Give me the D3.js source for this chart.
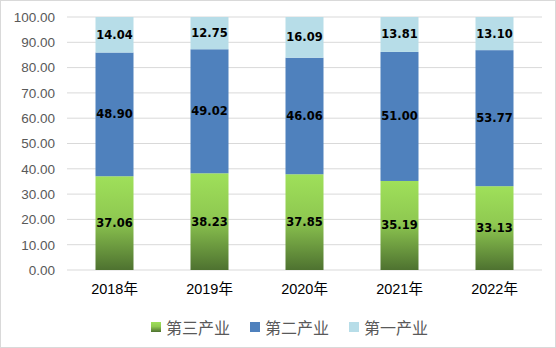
<!DOCTYPE html>
<html><head><meta charset="utf-8">
<script src="https://cdn.jsdelivr.net/npm/d3@7"></script>
<style>body{margin:0;background:#fff}svg{display:block}</style>
</head><body><svg id="c" width="556" height="348"></svg>
<script>
const years = ["2018年","2019年","2020年","2021年","2022年"];
const tertiary = [37.06,38.23,37.85,35.19,33.13];
const secondary = [48.90,49.02,46.06,51.00,53.77];
const primary = [14.04,12.75,16.09,13.81,13.10];
const seriesNames = ["第三产业","第二产业","第一产业"];
const yTicks = [0,10,20,30,40,50,60,70,80,90,100];

const svg = d3.select("#c");
const W=556,H=348;
svg.append("rect").attr("x",0.5).attr("y",0.5).attr("width",W-1).attr("height",H-1)
  .attr("fill","#fff").attr("stroke","#d9d9d9");

const defs = svg.append("defs");
const g1 = defs.append("linearGradient").attr("id","gGreen").attr("x1",0).attr("y1",0).attr("x2",0).attr("y2",1);
g1.append("stop").attr("offset","0%").attr("stop-color","#9fe05a");
g1.append("stop").attr("offset","45%").attr("stop-color","#8fc951");
g1.append("stop").attr("offset","100%").attr("stop-color","#4e7230");

const x = d3.scaleBand().domain(years).range([67,542]).paddingInner(0.6).paddingOuter(0.3);
const y = d3.scaleLinear().domain([0,100]).range([270,17]);

const grid = svg.append("g");
yTicks.forEach(t=>{
  grid.append("line").attr("x1",67).attr("x2",542).attr("y1",y(t)).attr("y2",y(t))
   .attr("stroke","#d9d9d9").attr("stroke-width",1);
});

const yAxis = d3.axisLeft(y).tickValues(yTicks).tickFormat(d=>d.toFixed(2)).tickSize(0).tickPadding(12);
const ya = svg.append("g").attr("transform","translate(67,0)").call(yAxis);
ya.select(".domain").remove();
ya.selectAll("text").attr("fill","#595959").style("font-family","'Liberation Sans',Arial,sans-serif").style("font-size","13.5px");

const xAxis = d3.axisBottom(x).tickSize(0).tickPadding(14);
const xa = svg.append("g").attr("transform","translate(0,270)").call(xAxis);
xa.select(".domain").remove();
xa.selectAll("text").attr("fill","#000").style("font-family","'Liberation Sans','Noto Sans CJK SC',sans-serif").style("font-size","14.5px");

const data = years.map((yr,i)=>({yr, s:[tertiary[i],secondary[i],primary[i]]}));
const fills = ["url(#gGreen)","#4f81bd","#b7dde8"];
const legendFills = ["url(#gGreen)","#4f81bd","#b7dde8"];

data.forEach(d=>{
  let base=0;
  d.s.forEach((v,k)=>{
    const y0=y(base), y1=y(base+v);
    svg.append("rect").attr("x",x(d.yr)).attr("width",x.bandwidth())
      .attr("y",y1).attr("height",y0-y1).attr("fill",fills[k]);
    svg.append("text").attr("x",x(d.yr)+x.bandwidth()/2).attr("y",(y0+y1)/2)
      .attr("text-anchor","middle").attr("dominant-baseline","central")
      .style("font-family","'DejaVu Sans',sans-serif").style("font-weight","bold").style("font-size","11.5px")
      .attr("fill","#000").text(v.toFixed(2));
    base+=v;
  });
});

const lg = svg.append("g");
const lx=[151,250,349];
seriesNames.forEach((n,k)=>{
  lg.append("rect").attr("x",lx[k]).attr("y",322).attr("width",10).attr("height",10).attr("fill",legendFills[k]);
  lg.append("text").attr("x",lx[k]+15).attr("y",327).attr("dominant-baseline","central")
    .style("font-family","'Noto Sans CJK SC',sans-serif").style("font-size","16px").attr("fill","#595959").text(n);
});
</script></body></html>
